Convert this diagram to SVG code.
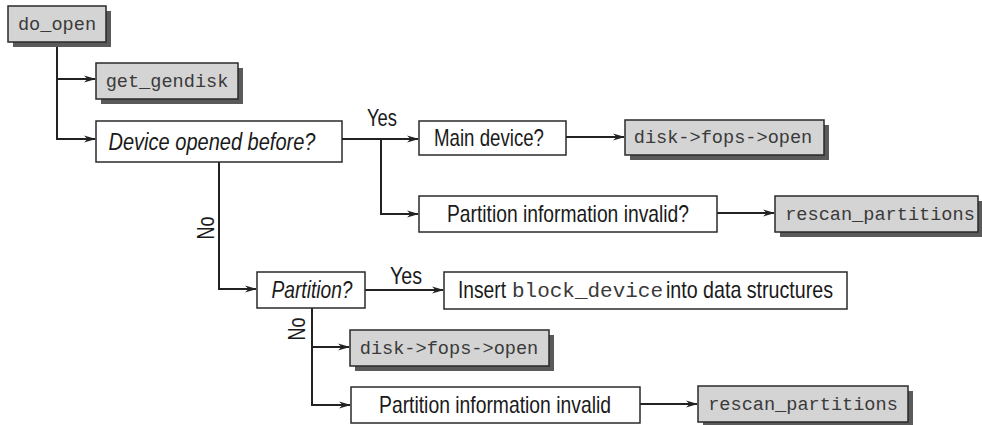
<svg xmlns="http://www.w3.org/2000/svg" width="982" height="425" viewBox="0 0 982 425">
<defs>
<marker id="arr" markerWidth="12" markerHeight="8" refX="11" refY="4" orient="auto" markerUnits="userSpaceOnUse">
<path d="M0,0.5 L12,4 L0,7.5 L3.5,4 Z" fill="#222"/>
</marker>
</defs>
<style>
.code{fill:#d4d4d4;stroke:#2a2a2a;stroke-width:1.5}
.shadow{fill:#5a5a5a}
.plain{fill:#fff;stroke:#2a2a2a;stroke-width:1.5}
.mono{font-family:"Liberation Mono","Courier New",monospace;font-size:18.6px;fill:#3a3a3a}
.sans{font-family:"Liberation Sans Narrow","Liberation Sans",Arial,sans-serif;font-size:24px;fill:#1a1a1a}
.it{font-style:italic}
.conn{fill:none;stroke:#222;stroke-width:2}
</style>
<rect width="982" height="425" fill="#fff"/>

<g id="connectors">
<path class="conn" d="M57,42 V139 H95" marker-end="url(#arr)"/>
<path class="conn" d="M57,79 H95" marker-end="url(#arr)"/>
<path class="conn" d="M342,139 H418" marker-end="url(#arr)"/>
<path class="conn" d="M381,139 V214 H418" marker-end="url(#arr)"/>
<path class="conn" d="M566,137 H624" marker-end="url(#arr)"/>
<path class="conn" d="M717,213 H774" marker-end="url(#arr)"/>
<path class="conn" d="M219,162 V289 H256" marker-end="url(#arr)"/>
<path class="conn" d="M365,290 H443" marker-end="url(#arr)"/>
<path class="conn" d="M312,308 V405 H350" marker-end="url(#arr)"/>
<path class="conn" d="M312,347 H349" marker-end="url(#arr)"/>
<path class="conn" d="M640,404 H697" marker-end="url(#arr)"/>
<text class="sans" x="382" y="126" text-anchor="middle" textLength="30" lengthAdjust="spacingAndGlyphs">Yes</text>
<text class="sans" x="406" y="284" text-anchor="middle" textLength="32" lengthAdjust="spacingAndGlyphs">Yes</text>
<text class="sans" transform="translate(214,228) rotate(-90)" text-anchor="middle" textLength="23" lengthAdjust="spacingAndGlyphs">No</text>
<text class="sans" transform="translate(305,329) rotate(-90)" text-anchor="middle" textLength="23" lengthAdjust="spacingAndGlyphs">No</text>
</g>

<g id="do_open">
<rect class="shadow" x="13" y="11" width="98" height="36"/>
<rect class="code" x="8" y="6" width="98" height="36"/>
<text class="mono" x="57" y="30" text-anchor="middle">do_open</text>
</g>

<g id="get_gendisk">
<rect class="shadow" x="101" y="68" width="142" height="36"/>
<rect class="code" x="96" y="63" width="142" height="36"/>
<text class="mono" x="167" y="87" text-anchor="middle">get_gendisk</text>
</g>

<g id="device_opened">
<rect class="plain" x="96" y="121" width="246" height="41"/>
<text class="sans it" x="212" y="150" text-anchor="middle" textLength="207" lengthAdjust="spacingAndGlyphs">Device opened before?</text>
</g>

<g id="main_device">
<rect class="plain" x="419" y="121" width="147" height="34"/>
<text class="sans" x="489" y="146" text-anchor="middle" textLength="110" lengthAdjust="spacingAndGlyphs">Main device?</text>
</g>

<g id="disk_open_top">
<rect class="shadow" x="630" y="125" width="199" height="35"/>
<rect class="code" x="625" y="120" width="199" height="35"/>
<text class="mono" x="723" y="143" text-anchor="middle">disk-&gt;fops-&gt;open</text>
</g>

<g id="partition_invalid_q">
<rect class="plain" x="419" y="196" width="298" height="36"/>
<text class="sans" x="568" y="222" text-anchor="middle" textLength="242" lengthAdjust="spacingAndGlyphs">Partition information invalid?</text>
</g>

<g id="rescan_top">
<rect class="shadow" x="780" y="201" width="203" height="36"/>
<rect class="code" x="775" y="196" width="203" height="36"/>
<text class="mono" x="880" y="220" text-anchor="middle">rescan_partitions</text>
</g>

<g id="partition_q">
<rect class="plain" x="257" y="272" width="108" height="36"/>
<text class="sans it" x="312" y="298" text-anchor="middle" textLength="81" lengthAdjust="spacingAndGlyphs">Partition?</text>
</g>

<g id="insert_bdev">
<rect class="plain" x="444" y="272" width="403" height="37"/>
<text class="sans" x="458" y="298" textLength="48" lengthAdjust="spacingAndGlyphs">Insert</text>
<text class="mono" x="512" y="297" style="font-size:21px" textLength="151" lengthAdjust="spacingAndGlyphs">block_device</text>
<text class="sans" x="666" y="298" textLength="167" lengthAdjust="spacingAndGlyphs">into data structures</text>
</g>

<g id="disk_open_bottom">
<rect class="shadow" x="355" y="335" width="199" height="36"/>
<rect class="code" x="350" y="330" width="199" height="36"/>
<text class="mono" x="449" y="354" text-anchor="middle">disk-&gt;fops-&gt;open</text>
</g>

<g id="partition_invalid">
<rect class="plain" x="351" y="387" width="289" height="36"/>
<text class="sans" x="495" y="413" text-anchor="middle" textLength="232" lengthAdjust="spacingAndGlyphs">Partition information invalid</text>
</g>

<g id="rescan_bottom">
<rect class="shadow" x="703" y="391" width="210" height="36"/>
<rect class="code" x="698" y="386" width="210" height="36"/>
<text class="mono" x="803" y="410" text-anchor="middle">rescan_partitions</text>
</g>
</svg>
